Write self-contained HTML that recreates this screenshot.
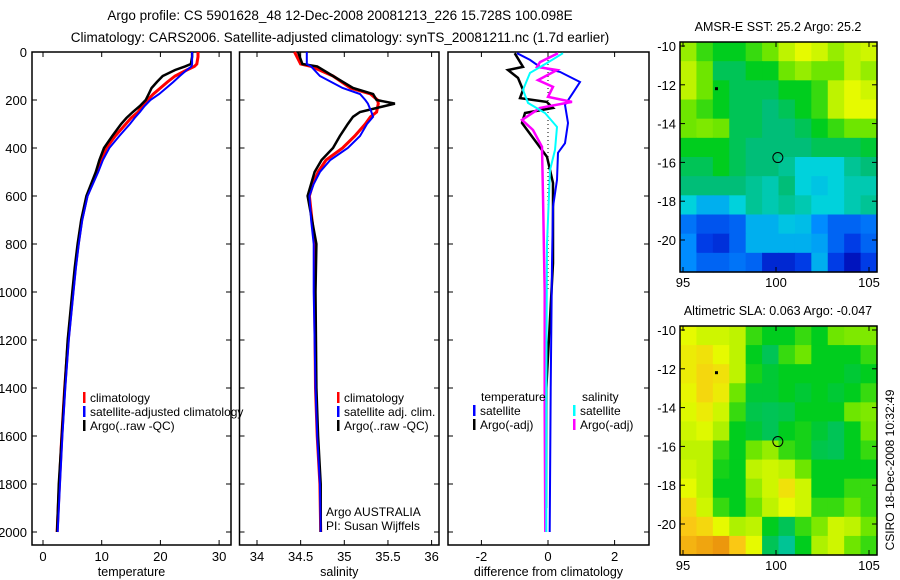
<!DOCTYPE html>
<html><head><meta charset="utf-8"><style>
body{margin:0;background:#fff;}
svg{display:block;font-family:"Liberation Sans",sans-serif;}
</style></head><body>
<svg id="chart" width="900" height="580" viewBox="0 0 900 580">
<text x="340" y="20" font-size="13.5" text-anchor="middle">Argo profile: CS 5901628_48 12-Dec-2008 20081213_226 15.728S 100.098E</text>
<text x="340" y="42" font-size="13.5" text-anchor="middle">Climatology: CARS2006. Satellite-adjusted climatology: synTS_20081211.nc (1.7d earlier)</text>
<text transform="translate(894,470) rotate(-90)" font-size="12" text-anchor="middle">CSIRO 18-Dec-2008 10:32:49</text>
</svg>
<script>
// ---- data ----
const depthTicks=[0,200,400,600,800,1000,1200,1400,1600,1800,2000];
const tDepth=[0,20,50,60,75,100,125,150,175,200,225,250,275,300,350,400,450,500,600,700,800,900,1000,1200,1400,1600,1800,2000];
const tClim=[26.4,26.4,26.2,25.8,24.5,22.5,21.2,20,18.8,17.8,16.9,16.2,15,14.1,12.3,10.8,9.9,9.2,7.5,6.6,6.0,5.5,5.1,4.3,3.7,3.2,2.8,2.4];
const tSat=[25.4,25.4,25.4,25.3,24.5,23.3,22.2,21,19.8,18.3,17.3,16.5,15.6,14.8,13,11.3,10.2,9.4,7.6,6.7,6.1,5.6,5.2,4.4,3.8,3.3,2.9,2.5];
const tArgo=[25.4,25.4,25.2,24.2,22.5,20.4,19.4,18.5,18,17.5,16.5,15.3,14.2,13.3,11.8,10.4,9.6,9.0,7.4,6.5,5.9,5.4,5.0,4.2,3.7,3.2,2.7,2.4];
const tTicks=[0,10,20,30];
const sDepth=[0,50,60,100,150,175,200,215,250,270,300,350,400,450,500,550,600,700,800,1000,1400,1600,1800,2000];
const sClim=[34.43,34.5,34.62,34.87,35.07,35.3,35.38,35.39,35.37,35.3,35.24,35.12,34.98,34.79,34.7,34.64,34.6,34.63,34.66,34.66,34.67,34.69,34.72,34.73];
const sSat=[34.57,34.57,34.62,34.72,34.98,35.18,35.24,35.27,35.31,35.33,35.26,35.18,35.04,34.84,34.72,34.65,34.6,34.62,34.65,34.65,34.67,34.69,34.72,34.73];
const sArgo=[34.47,34.52,34.69,34.87,35.1,35.33,35.37,35.58,35.18,35.1,35.04,34.95,34.87,34.74,34.66,34.62,34.58,34.63,34.68,34.67,34.68,34.7,34.73,34.73];
const sTicks=[34,34.5,35,35.5,36];
const dDepthTS=[5,33,62,83,125,170,220,296,380,420,533,645,880,1400,2000];
const dTempSat=[-0.93,-0.54,-0.24,0.36,0.96,0.75,0.51,0.6,0.51,0.3,0.27,0.15,0.12,0.08,0.05];
const dDepthTA=[5,62,75,108,158,192,208,233,254,296,380,437,546,880,1400,1900];
const dTempArgo=[-1.0,-0.75,-1.2,-0.9,-0.75,-0.84,-0.04,0.15,-0.69,-0.78,-0.33,-0.03,0.15,0.15,-0.05,-0.06];
const dDepthSS=[5,46,87,158,212,254,312,408,492,800,1400,2000];
const dSalSat=[0.45,-0.03,-0.54,-0.75,-0.6,-0.09,0.27,0.21,0.06,-0.03,-0.05,-0.05];
const dDepthSA=[5,42,62,75,117,145,187,208,233,283,325,395,600,1000,1500,2000];
const dSalArgo=[0.3,-0.24,-0.33,0.27,-0.3,0.15,0,0.72,-0.24,-0.78,-0.45,-0.18,-0.15,-0.1,-0.1,-0.08];
const dTicks=[-2,0,2];
const lonTicks=[95,100,105];
const latTicks=[-10,-12,-14,-16,-18,-20];
const sstGrid=[
[0.65,0.55,0.5,0.5,0.55,0.6,0.7,0.75,0.72,0.65,0.7,0.72],
[0.7,0.6,0.45,0.45,0.5,0.5,0.6,0.65,0.6,0.6,0.7,0.65],
[0.7,0.6,0.5,0.45,0.45,0.45,0.5,0.5,0.55,0.7,0.75,0.72],
[0.6,0.55,0.5,0.45,0.45,0.42,0.45,0.5,0.55,0.7,0.75,0.75],
[0.6,0.62,0.6,0.45,0.45,0.42,0.42,0.45,0.5,0.55,0.6,0.6],
[0.5,0.5,0.5,0.45,0.42,0.42,0.42,0.42,0.45,0.45,0.45,0.48],
[0.45,0.45,0.5,0.45,0.42,0.42,0.4,0.35,0.35,0.35,0.4,0.42],
[0.42,0.42,0.42,0.42,0.4,0.38,0.42,0.35,0.33,0.35,0.38,0.38],
[0.35,0.3,0.3,0.35,0.4,0.38,0.4,0.38,0.35,0.35,0.38,0.4],
[0.22,0.18,0.18,0.2,0.3,0.3,0.33,0.32,0.25,0.2,0.2,0.22],
[0.25,0.15,0.12,0.2,0.3,0.3,0.3,0.3,0.28,0.2,0.15,0.2],
[0.25,0.2,0.2,0.22,0.2,0.1,0.1,0.15,0.3,0.15,0.05,0.15]];
const slaGrid=[
[0.75,0.72,0.72,0.7,0.55,0.5,0.5,0.55,0.5,0.6,0.62,0.62],
[0.78,0.8,0.75,0.7,0.5,0.45,0.55,0.6,0.5,0.5,0.5,0.55],
[0.78,0.82,0.8,0.7,0.52,0.48,0.5,0.5,0.5,0.5,0.48,0.5],
[0.76,0.82,0.78,0.6,0.48,0.48,0.5,0.48,0.5,0.48,0.5,0.55],
[0.74,0.78,0.72,0.55,0.46,0.45,0.46,0.5,0.5,0.5,0.6,0.62],
[0.72,0.74,0.68,0.5,0.48,0.45,0.5,0.52,0.48,0.45,0.5,0.6],
[0.7,0.7,0.55,0.5,0.6,0.65,0.55,0.52,0.46,0.45,0.5,0.55],
[0.72,0.7,0.52,0.5,0.7,0.72,0.7,0.6,0.5,0.5,0.5,0.5],
[0.75,0.7,0.5,0.5,0.65,0.72,0.8,0.72,0.5,0.5,0.55,0.55],
[0.82,0.72,0.55,0.5,0.6,0.7,0.75,0.72,0.55,0.55,0.6,0.55],
[0.85,0.82,0.75,0.68,0.7,0.5,0.45,0.55,0.62,0.72,0.7,0.6],
[0.88,0.9,0.92,0.85,0.75,0.45,0.4,0.5,0.68,0.72,0.6,0.55]];
const argoPos=[100.1,-15.75];

const svg=document.getElementById('chart');
const NS='http://www.w3.org/2000/svg';
function mk(tag,attrs,parent){const e=document.createElementNS(NS,tag);for(const k in attrs)e.setAttribute(k,attrs[k]);(parent||svg).appendChild(e);return e;}
function txt(x,y,s,anchor,size,parent){const t=mk('text',{x:x,y:y,'font-size':size||12,'text-anchor':anchor||'start'},parent);t.textContent=s;return t;}

// depth axis shared
const yTop=52,yBot=545;
const yD=d=>52+d*0.24;

function panel(name,x0,x1,xs,ticks,title,showY){
  const g=mk('g',{});
  
  
  const r=mk('rect',{x:x0,y:yTop,width:x1-x0,height:yBot-yTop,fill:'none',stroke:'#000','stroke-width':1.5},g);
  
  
  depthTicks.forEach(d=>{
    mk('line',{x1:x0,x2:x0+5,y1:yD(d),y2:yD(d),stroke:'#000'},g);
    mk('line',{x1:x1,x2:x1-5,y1:yD(d),y2:yD(d),stroke:'#000'},g);
    if(showY){const t=txt(x0-5,yD(d)+5,String(d),'end',13,g);
      
      }
  });
  ticks.forEach(v=>{
    mk('line',{x1:xs(v),x2:xs(v),y1:yBot,y2:yBot-5,stroke:'#000'},g);
    mk('line',{x1:xs(v),x2:xs(v),y1:yTop,y2:yTop+5,stroke:'#000'},g);
    const t=txt(xs(v),561,String(v),'middle',13,g);
    
    
  });
  const tt=txt((x0+x1)/2,576,title,'middle',12.5,g);
  
  
  return g;
}
function line(xs,vals,depths,color,w,name,dash){
  const pts=vals.map((v,i)=>xs(v).toFixed(1)+','+yD(depths[i]).toFixed(1)).join(' ');
  const p=mk('polyline',{points:pts,fill:'none',stroke:color,'stroke-width':w});
  if(dash)p.setAttribute('stroke-dasharray',dash);
  
  
  return p;
}
function legend(x,y,color,label){
  const m=mk('rect',{x:x,y:y-10,width:2.5,height:11,fill:color});
  
  
  const t=txt(x+7,y,label,'start',12);
  
  
}

// temperature panel
const xT=v=>43+v*5.87;
panel('temperature-panel',32,231,xT,tTicks,'temperature',true);
line(xT,tClim,tDepth,'#f00',3,'temp-climatology-line');
line(xT,tArgo,tDepth,'#000',2.5,'temp-argo-line');
line(xT,tSat,tDepth,'#00f',2,'temp-satellite-line');
legend(83,402,'#f00','climatology');
legend(83,416,'#00f','satellite-adjusted climatology');
legend(83,430,'#000','Argo(..raw -QC)');

// salinity panel
const xS=v=>257+(v-34)*87.3;
panel('salinity-panel',239.5,439,xS,sTicks,'salinity',false);
line(xS,sClim,sDepth,'#f00',3,'sal-climatology-line');
line(xS,sArgo,sDepth,'#000',2.5,'sal-argo-line');
line(xS,sSat,sDepth,'#00f',2,'sal-satellite-line');
legend(337,402,'#f00','climatology');
legend(337,416,'#00f','satellite adj. clim.');
legend(337,430,'#000','Argo(..raw -QC)');
let a1=txt(326,516,'Argo AUSTRALIA','start',12);


let a2=txt(326,530,'PI: Susan Wijffels','start',12);



// difference panel
const xDf=v=>548+v*33.3;
panel('difference-panel',448,649,xDf,dTicks,'difference from climatology',false);
const zl=mk('line',{x1:xDf(0),x2:xDf(0),y1:yTop,y2:yD(1000),stroke:'#000','stroke-width':1,'stroke-dasharray':'1,3'});


line(xDf,dTempArgo,dDepthTA,'#000',2.5,'diff-temp-argo-line');
line(xDf,dTempSat,dDepthTS,'#00f',2,'diff-temp-satellite-line');
line(xDf,dSalArgo,dDepthSA,'#f0f',2.5,'diff-sal-argo-line');
line(xDf,dSalSat,dDepthSS,'#0ff',2,'diff-sal-satellite-line');
let lt=txt(481,401,'temperature','start',12);


let ls=txt(582,401,'salinity','start',12);


legend(473,415,'#00f','satellite');
legend(473,429,'#000','Argo(-adj)');
legend(573,415,'#0ff','satellite');
legend(573,429,'#f0f','Argo(-adj)');

// colormap
const stops=[[0,[0,0,170]],[0.15,[0,60,230]],[0.25,[0,140,255]],[0.35,[0,210,220]],[0.42,[0,190,120]],[0.5,[0,205,30]],[0.6,[110,230,0]],[0.75,[230,250,0]],[0.85,[250,200,20]],[0.95,[230,130,10]],[1,[200,80,0]]];
function cmap(v){for(let i=1;i<stops.length;i++){if(v<=stops[i][0]){const a=stops[i-1],b=stops[i];const t=(v-a[0])/(b[0]-a[0]);const c=a[1].map((q,k)=>Math.round(q+(b[1][k]-q)*t));return 'rgb('+c.join(',')+')';}}return 'rgb(200,80,0)';}

function map(name,top,bot,grid,title){
  const x0=680,x1=877;
  const lonX=l=>683+(l-95)*18.6;
  const latY=l=>top+4+(-10-l)*19.4;
  const g=mk('g',{});
  
  
  const rows=grid.length,cols=grid[0].length;
  const cw=(x1-x0)/cols,ch=(bot-top)/rows;
  grid.forEach((row,r)=>row.forEach((v,c)=>{
    const cell=mk('rect',{x:(x0+c*cw).toFixed(2),y:(top+r*ch).toFixed(2),width:(cw+0.6).toFixed(2),height:(ch+0.6).toFixed(2),fill:cmap(v)},g);
    
    
  }));
  mk('rect',{x:x0,y:top,width:x1-x0,height:bot-top,fill:'none',stroke:'#000','stroke-width':1.5},g);
  lonTicks.forEach(l=>{
    mk('line',{x1:lonX(l),x2:lonX(l),y1:bot,y2:bot-5,stroke:'#000'},g);
    mk('line',{x1:lonX(l),x2:lonX(l),y1:top,y2:top+5,stroke:'#000'},g);
    const t=txt(lonX(l),bot+15,String(l),'middle',13,g);
    
    
  });
  latTicks.forEach(l=>{
    mk('line',{x1:x0,x2:x0+5,y1:latY(l),y2:latY(l),stroke:'#000'},g);
    mk('line',{x1:x1,x2:x1-5,y1:latY(l),y2:latY(l),stroke:'#000'},g);
    const t=txt(x0-4,latY(l)+5,String(l),'end',13,g);
    
    
  });
  const c=mk('circle',{cx:lonX(argoPos[0]),cy:latY(argoPos[1]),r:5,fill:'none',stroke:'#000'},g);
  
  
  mk('rect',{x:lonX(96.8)-1.5,y:latY(-12.2)-1.5,width:3,height:3,fill:'#000'},g);
  const t=txt(778,top-11,title,'middle',12.5,g);
  
  
}
map('sst-map',42,272,sstGrid,'AMSR-E SST: 25.2 Argo: 25.2');
map('sla-map',326,555,slaGrid,'Altimetric SLA: 0.063 Argo: -0.047');
</script>
</body></html>
